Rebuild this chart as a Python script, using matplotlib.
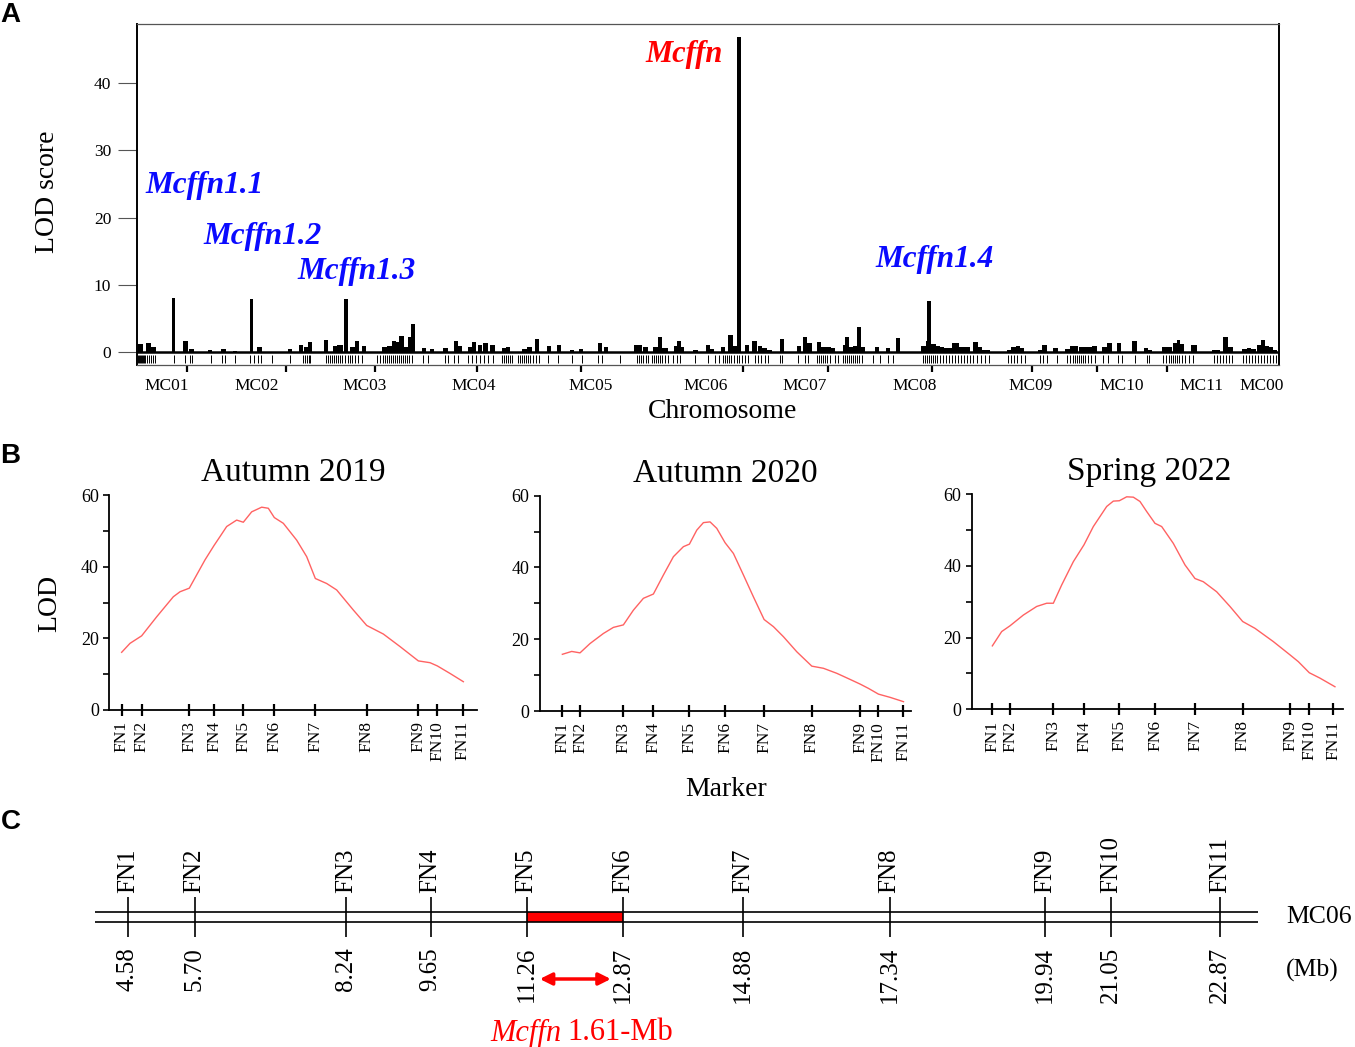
import matplotlib
matplotlib.use("Agg")
import matplotlib.pyplot as plt
from matplotlib.patches import Rectangle

plt.rcParams['font.family'] = ['Liberation Serif', 'DejaVu Serif']

W, H = 1355, 1047

# ---------- panel A data (genome position units, LOD) ----------
bar_start = [1, 9, 14, 35, 46, 52, 71, 84, 96, 113, 120, 151, 162, 167, 171, 187, 196, 200, 207, 213,
             218, 225, 245, 250, 255, 259, 262, 267, 271, 274, 285, 293, 306, 317, 321, 331, 335, 341, 346, 353,
             365, 369, 385, 390, 398, 410, 420, 433, 442, 461, 467, 497, 501, 506, 516, 521, 525, 537, 540, 544,
             556, 569, 573, 584, 591, 596, 600, 608, 615, 621, 625, 630, 643, 660, 666, 670, 680, 684, 689, 694,
             706, 708, 712, 716, 720, 724, 738, 749, 759, 784, 789, 790, 794, 799, 803, 807, 815, 822, 828, 836,
             841, 845, 870, 874, 879, 883, 901, 905, 916, 928, 933, 942, 948, 955, 965, 970, 980, 995, 1007, 1011,
             1025, 1030, 1036, 1040, 1043, 1054, 1075, 1079, 1086, 1091, 1105, 1110, 1114, 1120, 1124, 1128, 1132, 1136]
bar_end = [6, 14, 19, 38, 51, 57, 75, 89, 100, 116, 125, 155, 166, 171, 175, 191, 200, 206, 211, 218,
           222, 229, 250, 255, 259, 262, 267, 271, 274, 278, 289, 297, 311, 321, 325, 335, 339, 345, 351, 358,
           369, 373, 390, 395, 402, 414, 424, 437, 446, 465, 471, 501, 505, 511, 521, 525, 531, 540, 544, 547,
           561, 573, 577, 588, 596, 600, 604, 612, 620, 625, 630, 635, 647, 664, 670, 675, 684, 689, 694, 698,
           708, 712, 716, 720, 724, 728, 742, 753, 763, 789, 790, 794, 799, 803, 807, 815, 822, 828, 833, 841,
           845, 853, 874, 879, 883, 887, 905, 910, 921, 933, 941, 948, 955, 960, 970, 975, 984, 1000, 1011, 1015,
           1030, 1035, 1040, 1043, 1047, 1060, 1079, 1083, 1091, 1096, 1110, 1114, 1119, 1124, 1128, 1132, 1136, 1140]
bar_lod = [1.2, 1.3, 0.8, 8.0, 1.7, 0.45, 0.25, 0.4, 0.2, 7.9, 0.75, 0.5, 1.0, 0.8, 1.45, 1.8, 0.95, 1.1, 7.9, 0.8,
           1.6, 0.9, 0.75, 0.95, 1.6, 1.45, 2.45, 0.8, 2.2, 4.2, 0.6, 0.5, 0.6, 1.7, 0.95, 0.7, 1.5, 1.0, 1.3, 1.0,
           0.6, 0.8, 0.45, 0.8, 1.9, 0.85, 1.1, 0.3, 0.4, 1.4, 0.8, 1.0, 1.1, 0.75, 0.7, 2.2, 0.6, 0.95, 1.6, 0.75,
           0.3, 1.1, 0.5, 0.7, 2.5, 0.85, 46.8, 1.0, 1.6, 0.85, 0.6, 0.35, 2.0, 0.95, 2.3, 1.3, 1.45, 0.75, 0.7, 0.6,
           1.1, 2.2, 0.8, 0.9, 3.7, 0.75, 0.7, 0.6, 2.1, 0.95, 1.6, 7.6, 1.25, 0.85, 0.75, 0.6, 1.35, 0.8, 0.75, 1.5,
           0.7, 0.3, 0.3, 0.8, 0.9, 0.6, 0.3, 1.1, 0.6, 0.4, 0.95, 0.8, 0.8, 0.95, 0.7, 1.4, 1.4, 1.6, 0.6, 0.3,
           0.75, 0.8, 1.3, 1.8, 1.2, 1.1, 0.3, 0.3, 2.3, 0.8, 0.4, 0.6, 0.5, 1.1, 1.8, 0.9, 0.8, 0.3]

rug_markers = [1, 2, 3, 4, 5, 6, 7, 8, 10, 12, 14, 16, 18, 37, 48, 53, 55, 74, 85, 88, 98, 113, 117, 121, 124,
               135, 153, 166, 168, 170, 172, 173, 189, 191, 193, 195, 197, 199, 201, 203, 205, 208, 211, 213, 215,
               218, 221, 225, 240, 243, 246, 248, 250, 252, 254, 256, 258, 260, 262, 264, 266, 268, 270, 272, 275,
               286, 291, 308, 311, 317, 321, 331, 335, 339, 343, 347, 351, 356, 365, 367, 369, 371, 373, 375,
               381, 383, 385, 387, 389, 391, 393, 396, 399, 402, 411, 421, 435, 445, 461, 465, 483,
               500, 502, 504, 506, 509, 511, 515, 517, 519, 521, 523, 525, 528, 531, 536, 540, 543, 558, 571, 578, 582,
               586, 588, 590, 592, 594, 597, 600, 602, 605, 608, 611, 618, 621, 624, 628, 631, 643, 645, 661, 668, 671,
               680, 682, 684, 686, 688, 690, 693, 698, 701, 706, 708, 710, 712, 714, 716, 718, 720, 722, 725, 736, 743,
               751, 756, 786, 788, 790, 792, 794, 796, 798, 800, 803, 806, 809, 812, 815, 818, 821, 824, 827, 830, 833,
               836, 840, 844, 848, 852, 871, 874, 877, 880, 884, 888, 903, 906, 910, 920, 930, 933, 936, 938, 940, 942,
               944, 946, 948, 951, 954, 958, 966, 971, 981, 985, 998, 1010, 1012, 1026, 1029, 1032, 1034, 1036, 1038,
               1040, 1042, 1045, 1048, 1052, 1056, 1077, 1080, 1083, 1086, 1089, 1092, 1095, 1106, 1109, 1112, 1115,
               1118, 1121, 1124, 1127, 1130, 1133, 1136, 1139]

chrom_bounds = [50, 149, 238, 340, 444, 606, 691, 795, 895, 960, 1030]
chrom_names = ['MC01', 'MC02', 'MC03', 'MC04', 'MC05', 'MC06', 'MC07', 'MC08', 'MC09', 'MC10', 'MC11', 'MC00']
chrom_label_pos = [30, 120, 228, 337, 454, 569, 668, 778, 894, 985, 1064, 1125]

qtl_names = ['Mcffn1.1', 'Mcffn1.2', 'Mcffn1.3', 'Mcffn1.4', 'Mcffn']
qtl_colors = ['#0a0aff', '#0a0aff', '#0a0aff', '#0a0aff', '#ff0000']
qtl_pos = [(8, 24.7), (66, 17.2), (160, 11.9), (738, 13.8), (508, 44.2)]

# ---------- panel B data (cM positions, LOD) ----------
fn_names = ['FN1', 'FN2', 'FN3', 'FN4', 'FN5', 'FN6', 'FN7', 'FN8', 'FN9', 'FN10', 'FN11']
seasons = ['Autumn 2019', 'Autumn 2020', 'Spring 2022']
markers_cm = [
    [0, 4.0, 13.5, 18.5, 24.3, 30.5, 38.7, 49.0, 59.3, 63.1, 68.2],
    [0, 3.53, 12.2, 18.2, 25.4, 32.53, 40.33, 49.87, 59.53, 63.2, 68.2],
    [0, 3.53, 12.2, 18.33, 25.4, 32.53, 40.53, 50.07, 59.53, 63.4, 68.2],
]
curve_cm = [
    [0, 1.67, 4.0, 7.0, 10.33, 11.67, 13.53, 15.0, 16.67, 18.47, 19.67, 21.0, 23.0, 24.33, 26.0, 28.0, 29.33,
     30.53, 32.33, 35.0, 37.0, 38.73, 41.0, 43.0, 46.33, 49.0, 52.33, 55.67, 59.33, 61.67, 63.13, 65.67, 68.33],
    [0, 1.87, 3.53, 5.53, 8.2, 10.2, 12.2, 14.2, 16.2, 18.2, 20.2, 22.2, 24.2, 25.4, 26.87, 28.2, 29.53, 30.87,
     32.53, 34.2, 36.2, 38.2, 40.33, 42.2, 44.2, 46.87, 49.87, 52.2, 54.87, 57.53, 59.53, 61.2, 63.2, 65.53, 68.2],
    [0, 1.87, 3.53, 6.2, 8.87, 10.87, 12.2, 13.87, 16.2, 18.33, 20.2, 22.87, 24.2, 25.4, 26.87, 28.2, 29.53, 30.87,
     32.53, 33.87, 36.2, 38.53, 40.53, 42.2, 44.87, 47.53, 50.07, 52.53, 56.2, 59.53, 61.2, 63.4, 65.53, 68.53],
]
curve_lod = [
    [16.1, 18.6, 20.7, 26.0, 31.6, 33.0, 34.0, 37.7, 41.9, 45.9, 48.4, 51.2, 53.0, 52.4, 55.3, 56.6, 56.3,
     53.7, 52.1, 47.4, 42.8, 36.7, 35.3, 33.5, 27.9, 23.6, 21.2, 17.7, 13.7, 13.2, 12.3, 10.2, 7.9],
    [15.8, 16.6, 16.2, 18.8, 21.6, 23.3, 24.0, 28.1, 31.4, 32.6, 37.9, 43.0, 45.8, 46.5, 50.4, 52.5, 52.7, 50.9,
     46.9, 43.9, 37.9, 31.8, 25.5, 23.5, 20.7, 16.5, 12.5, 11.9, 10.5, 8.8, 7.5, 6.3, 4.7, 3.8, 2.6],
    [17.7, 21.7, 23.3, 26.3, 28.7, 29.6, 29.6, 34.7, 41.2, 45.9, 51.0, 56.6, 58.1, 58.2, 59.3, 59.2, 58.0, 55.2,
     51.9, 51.0, 46.3, 40.3, 36.5, 35.6, 32.8, 28.7, 24.5, 22.6, 18.9, 15.2, 13.3, 10.2, 8.7, 6.3],
]

# ---------- panel C data (physical positions, Mb) ----------
fn_mb = [4.58, 5.70, 8.24, 9.65, 11.26, 12.87, 14.88, 17.34, 19.94, 21.05, 22.87]
interval = (11.26, 12.87)


def px_box(l, t, r, b):
    return [l / W, 1 - b / H, (r - l) / W, (b - t) / H]


fig = plt.figure(figsize=(W / 100, H / 100), dpi=100)

# ================= A =================
axA = fig.add_axes(px_box(137, 24, 1279, 365))
widths = [e - s for s, e in zip(bar_start, bar_end)]
axA.bar(bar_start, bar_lod, width=widths, align='edge', color='black', linewidth=0)
axA.axhline(0, color='black', lw=1.8)
axA.vlines(rug_markers, -1.64, -0.45, color='black', lw=0.7)
axA.set_xlim(0, 1142)
axA.set_ylim(-1.93, 48.77)
for side in ['left', 'right']:
    axA.spines[side].set_linewidth(1.4)
for side in ['top', 'bottom']:
    axA.spines[side].set_linewidth(0.9)
    axA.spines[side].set_color('#555555')
axA.set_yticks([0, 10, 20, 30, 40])
axA.tick_params(axis='y', length=13.5, width=0.8, color='#555555', labelsize=12.5, pad=5)
axA.set_xticks(chrom_label_pos)
axA.set_xticklabels(chrom_names)
axA.tick_params(axis='x', which='major', length=0, labelsize=12.5, pad=9)
axA.set_xticks(chrom_bounds, minor=True)
axA.tick_params(axis='x', which='minor', length=5, width=1.6, color='black')
for name, col, (qx, qy) in zip(qtl_names, qtl_colors, qtl_pos):
    size = 22 if name == 'Mcffn' else 22.5
    axA.text(qx, qy, name, color=col, fontsize=size, style='italic', weight='bold',
             ha='left', va='center')
fig.text(48 / W, 1 - 192 / H, 'LOD score', rotation=90, ha='center', va='center', fontsize=20)
fig.text(723 / W, 1 - 412 / H, 'Chromosome', ha='center', va='center', fontsize=20)

# ================= B =================
boxes = [(109.3, 495, 476.7, 710), (540, 495.7, 911, 711), (971.7, 494.3, 1343.3, 709.3)]
xlims = [(-2.47, 71.0), (-4.47, 69.7), (-4.13, 70.2)]
title_x = [0.5, 0.5, 0.478]
for i in range(3):
    ax = fig.add_axes(px_box(*boxes[i]))
    ax.plot(curve_cm[i], curve_lod[i], color='#ff6262', lw=1.0)
    ax.set_xlim(*xlims[i])
    ax.set_ylim(0, 60)
    ax.spines['top'].set_visible(False)
    ax.spines['right'].set_visible(False)
    ax.spines['left'].set_linewidth(1.3)
    ax.spines['bottom'].set_linewidth(1.3)
    ax.set_yticks([0, 20, 40, 60])
    ax.set_yticks([10, 30, 50], minor=True)
    ax.tick_params(axis='y', which='both', direction='out', length=4, width=1.2, labelsize=13)
    ax.set_xticks(markers_cm[i])
    ax.set_xticklabels(fn_names, rotation=90, va='top')
    ax.tick_params(axis='x', direction='inout', length=8, width=1.6, labelsize=12.5, pad=4)
    ax.set_title(seasons[i], fontsize=24, pad=10, x=title_x[i])
fig.text(50 / W, 1 - 603 / H, 'LOD', rotation=90, ha='center', va='center', fontsize=20)
fig.text(726 / W, 1 - 790 / H, 'Marker', ha='center', va='center', fontsize=20)

# ================= C =================
axC = fig.add_axes(px_box(95, 830, 1258, 1047))
axC.set_xlim(4.03, 23.51)
axC.set_ylim(1047, 830)
axC.axis('off')
axC.hlines([912, 922], 4.03, 23.51, color='black', lw=1.2)
axC.add_patch(Rectangle((interval[0], 912), interval[1] - interval[0], 10, color='#ff0000', lw=0))
axC.vlines(fn_mb, 897, 937, color='black', lw=1.2)
for name, mb in zip(fn_names, fn_mb):
    axC.text(mb, 893, name, rotation=90, ha='center', va='bottom', fontsize=18)
    axC.text(mb, 947, '%.2f' % mb, rotation=90, ha='center', va='top', fontsize=18)
axC.annotate('', xy=(interval[0] + 0.22, 979), xytext=(interval[1] - 0.2, 979),
             arrowprops=dict(arrowstyle='<|-|>', color='#ff0000', lw=2.5, mutation_scale=18,
                             shrinkA=0, shrinkB=0))
fig.text(561 / W, 1 - 1033 / H, 'Mcffn', color='#ff0000', style='italic', ha='right', va='center',
         fontsize=22)
fig.text(567 / W, 1 - 1033 / H, '1.61-Mb', color='#ff0000', ha='left', va='center', fontsize=22)
fig.text(1286 / W, 1 - 917 / H, 'MC06', ha='left', va='center', fontsize=18.5)
fig.text(1286 / W, 1 - 970 / H, '(Mb)', ha='left', va='center', fontsize=18.5)

# panel letters
for letter, (lx, ly) in zip('ABC', [(10, 15), (10, 456), (11, 822)]):
    fig.text(lx / W, 1 - ly / H, letter, family='Liberation Sans', weight='bold', fontsize=20,
             ha='center', va='center')

fig.savefig('out.png', dpi=100)
